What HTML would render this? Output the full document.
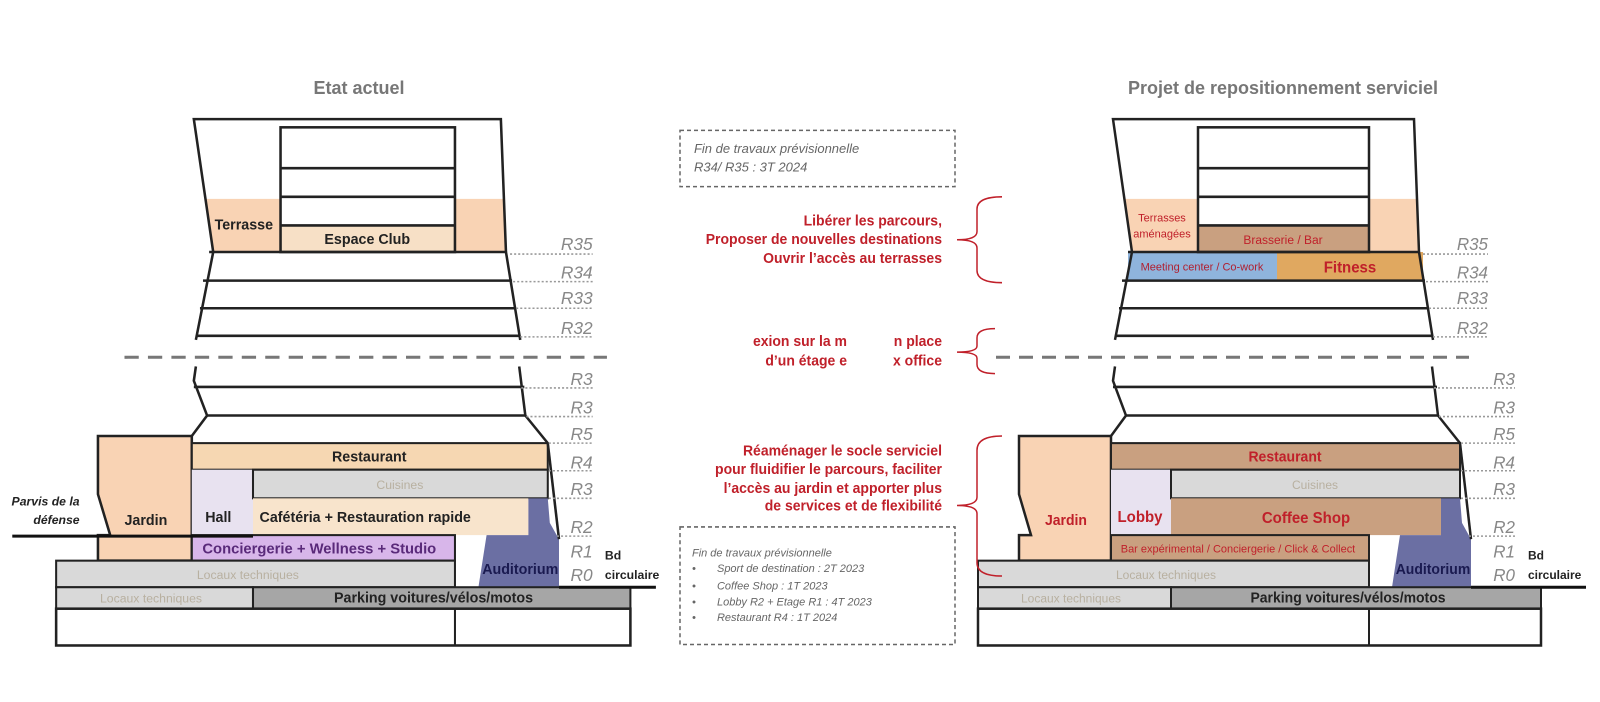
<!DOCTYPE html>
<html><head><meta charset="utf-8"><style>
html,body{margin:0;padding:0;background:#fff;}
svg{display:block;}
text{font-family:"Liberation Sans",sans-serif;}
.b{font-weight:bold;font-size:14px;fill:#222;}
.r{font-style:italic;font-size:17px;fill:#888;text-anchor:end;}
.red{font-weight:bold;font-size:14px;fill:#c0202a;text-anchor:end;}
.g{font-style:italic;font-size:13px;fill:#666;}
.s{font-style:italic;font-size:11px;fill:#666;}
</style></head><body>
<svg width="1600" height="702" viewBox="0 0 1600 702" xmlns="http://www.w3.org/2000/svg">
<rect width="1600" height="702" fill="#fff"/>
<text x="359" y="94" text-anchor="middle" style="font-weight:bold;font-size:18px;fill:#777">Etat actuel</text>
<text x="1283" y="94" text-anchor="middle" style="font-weight:bold;font-size:18px;fill:#777">Projet de repositionnement serviciel</text>

<g transform="matrix(1,0,0,1.022,0,0.6)">
<!-- LEFT BUILDING -->
<g transform="matrix(1.02,0,0,1,-2,0)">
<polygon points="203,194 277,194 277,246 211,246" fill="#f9d3b4"/>
<polygon points="448,194 497,194 498,246 448,246" fill="#f9d3b4"/>
<rect x="277" y="220" width="171" height="26" fill="#f7e0c6"/>
<g stroke="#222" stroke-width="2.5" fill="none">
<polyline points="211,246 192,116 493,116 498,246"/>
<rect x="277" y="124" width="171" height="122"/>
<line x1="277" y1="164" x2="448" y2="164"/><line x1="277" y1="192" x2="448" y2="192"/><line x1="277" y1="220" x2="448" y2="220"/>
<polyline points="211,246 194,332"/><polyline points="498,246 512,332"/>
<line x1="207" y1="246" x2="499" y2="246"/><line x1="201" y1="274" x2="504" y2="274"/><line x1="198" y1="301" x2="507" y2="301"/><line x1="195" y1="328" x2="511" y2="328"/>
<polyline points="194,358 192,372 205,406 190,426"/>
<polyline points="511,358 517,406 539,433"/>
<line x1="192" y1="378" x2="516" y2="378"/><line x1="204" y1="406" x2="518" y2="406"/>
</g>
<line x1="124" y1="349" x2="597" y2="349" stroke="#777" stroke-width="3" stroke-dasharray="14,9"/>
<polygon points="98,426 190,426 190,548 98,548 98,523 110,523 98,483" fill="#f9d3b4" stroke="#222" stroke-width="2.5"/>
<rect x="190" y="433" width="349" height="26" fill="#f6d7b2" stroke="#222" stroke-width="2"/>
<rect x="190" y="459" width="60" height="64" fill="#e8e2f0"/>
<rect x="250" y="459" width="289" height="28" fill="#d9d9d9" stroke="#222" stroke-width="2"/>
<rect x="250" y="487" width="270" height="36" fill="#f8e4cc"/>
<polygon points="520,487 539,487 541,511 550,527 550,574 471,574 479,523 520,523" fill="#6b6fa3"/>
<rect x="190" y="523" width="258" height="25" fill="#d8b6ea" stroke="#222" stroke-width="2"/>
<rect x="57" y="548" width="391" height="26" fill="#d9d9d9" stroke="#222" stroke-width="2"/>
<rect x="57" y="574" width="193" height="21" fill="#d9d9d9" stroke="#222" stroke-width="2"/>
<rect x="250" y="574" width="370" height="21" fill="#a6a6a6" stroke="#222" stroke-width="2"/>
<rect x="57" y="595" width="563" height="36" fill="#fff" stroke="#222" stroke-width="2.5"/>
<line x1="448" y1="595" x2="448" y2="631" stroke="#222" stroke-width="2"/>
<line x1="539" y1="433" x2="550" y2="527" stroke="#222" stroke-width="2.5"/>
<line x1="14" y1="524" x2="250" y2="524" stroke="#111" stroke-width="3"/>
<line x1="550" y1="574" x2="645" y2="574" stroke="#111" stroke-width="3"/>
<text x="241" y="224" class="b" text-anchor="middle">Terrasse</text>
<text x="362" y="238" class="b" text-anchor="middle">Espace Club</text>
<text x="364" y="451" class="b" text-anchor="middle">Restaurant</text>
<text x="394" y="478" text-anchor="middle" style="font-size:12px;fill:#b8b0a0">Cuisines</text>
<text x="216" y="510" class="b" text-anchor="middle">Hall</text>
<text x="360" y="510" class="b" text-anchor="middle">Cafétéria + Restauration rapide</text>
<text x="145" y="513" class="b" text-anchor="middle">Jardin</text>
<text x="315" y="541" class="b" text-anchor="middle" style="fill:#5a2a7a;font-size:14.5px">Conciergerie + Wellness + Studio</text>
<text x="245" y="566" text-anchor="middle" style="font-size:12px;fill:#b8b0a0">Locaux techniques</text>
<text x="150" y="589" text-anchor="middle" style="font-size:12px;fill:#b8b0a0">Locaux techniques</text>
<text x="427" y="589" class="b" text-anchor="middle">Parking voitures/vélos/motos</text>
<text x="512" y="561" class="b" text-anchor="middle" style="fill:#1a1a50">Auditorium</text>
<text x="80" y="494" text-anchor="end" style="font-style:italic;font-weight:bold;font-size:12px;fill:#222">Parvis de la</text>
<text x="80" y="512" text-anchor="end" style="font-style:italic;font-weight:bold;font-size:12px;fill:#222">défense</text>
<text x="595" y="547" style="font-weight:bold;font-size:12px;fill:#222">Bd</text>
<text x="595" y="566" style="font-weight:bold;font-size:12px;fill:#222">circulaire</text>
<text x="583" y="244" class="r">R35</text><text x="583" y="272" class="r">R34</text><text x="583" y="297" class="r">R33</text><text x="583" y="326" class="r">R32</text>
<text x="583" y="376" class="r">R3</text><text x="583" y="404" class="r">R3</text><text x="583" y="430" class="r">R5</text><text x="583" y="458" class="r">R4</text>
<text x="583" y="484" class="r">R3</text><text x="583" y="521" class="r">R2</text><text x="583" y="545" class="r">R1</text><text x="583" y="568" class="r">R0</text>
<g stroke="#999" stroke-width="1.5" stroke-dasharray="2,2">
<line x1="502" y1="248" x2="583" y2="248"/><line x1="505" y1="275" x2="583" y2="275"/><line x1="508" y1="301" x2="583" y2="301"/><line x1="512" y1="329" x2="583" y2="329"/>
<line x1="513" y1="379" x2="583" y2="379"/><line x1="518" y1="407" x2="583" y2="407"/><line x1="540" y1="433" x2="583" y2="433"/><line x1="540" y1="460" x2="583" y2="460"/>
<line x1="540" y1="487" x2="583" y2="487"/><line x1="548" y1="524" x2="583" y2="524"/>
</g>
</g>

<!-- RIGHT BUILDING -->
<g transform="translate(921,0)">
<polygon points="203,194 277,194 277,246 211,246" fill="#f9d3b4"/>
<polygon points="448,194 497,194 498,246 448,246" fill="#f9d3b4"/>
<rect x="277" y="220" width="171" height="26" fill="#c9a080" stroke="#444" stroke-width="1.5"/>
<rect x="207" y="246" width="149" height="28" fill="#8fb4dc"/>
<rect x="356" y="246" width="146" height="28" fill="#e0a860"/>
<g stroke="#222" stroke-width="2.5" fill="none">
<polyline points="211,246 192,116 493,116 498,246"/>
<rect x="277" y="124" width="171" height="122"/>
<line x1="277" y1="164" x2="448" y2="164"/><line x1="277" y1="192" x2="448" y2="192"/><line x1="277" y1="220" x2="448" y2="220"/>
<polyline points="211,246 194,332"/><polyline points="498,246 512,332"/>
<line x1="207" y1="246" x2="499" y2="246"/><line x1="201" y1="274" x2="504" y2="274"/><line x1="198" y1="301" x2="507" y2="301"/><line x1="195" y1="328" x2="511" y2="328"/>
<polyline points="194,358 192,372 205,406 190,426"/>
<polyline points="511,358 517,406 539,433"/>
<line x1="192" y1="378" x2="516" y2="378"/><line x1="204" y1="406" x2="518" y2="406"/>
</g>
<polygon points="98,426 190,426 190,548 98,548 98,523 110,523 98,483" fill="#f9d3b4" stroke="#222" stroke-width="2.5"/>
<rect x="190" y="433" width="349" height="26" fill="#c9a080" stroke="#222" stroke-width="2"/>
<rect x="190" y="459" width="60" height="64" fill="#e8e2f0"/>
<rect x="250" y="459" width="289" height="28" fill="#d9d9d9" stroke="#222" stroke-width="2"/>
<rect x="250" y="487" width="270" height="36" fill="#c9a080"/>
<polygon points="520,487 539,487 541,511 550,527 550,574 471,574 479,523 520,523" fill="#6b6fa3"/>
<rect x="190" y="523" width="258" height="25" fill="#c9a080" stroke="#222" stroke-width="2"/>
<rect x="57" y="548" width="391" height="26" fill="#d9d9d9" stroke="#222" stroke-width="2"/>
<rect x="57" y="574" width="193" height="21" fill="#d9d9d9" stroke="#222" stroke-width="2"/>
<rect x="250" y="574" width="370" height="21" fill="#a6a6a6" stroke="#222" stroke-width="2"/>
<rect x="57" y="595" width="563" height="36" fill="#fff" stroke="#222" stroke-width="2.5"/>
<line x1="448" y1="595" x2="448" y2="631" stroke="#222" stroke-width="2"/>
<line x1="539" y1="433" x2="550" y2="527" stroke="#222" stroke-width="2.5"/>
<line x1="550" y1="574" x2="665" y2="574" stroke="#111" stroke-width="3"/>
<text x="241" y="216" style="font-size:11px;fill:#c0202a" text-anchor="middle">Terrasses</text>
<text x="241" y="232" style="font-size:11px;fill:#c0202a" text-anchor="middle">aménagées</text>
<text x="362" y="238" style="font-size:12px;fill:#c0202a" text-anchor="middle">Brasserie / Bar</text>
<text x="281" y="264" style="font-size:11px;fill:#b02030" text-anchor="middle">Meeting center / Co-work</text>
<text x="429" y="266" style="font-weight:bold;font-size:15px;fill:#c0202a" text-anchor="middle">Fitness</text>
<text x="364" y="451" style="font-weight:bold;font-size:14px;fill:#c0202a" text-anchor="middle">Restaurant</text>
<text x="394" y="478" text-anchor="middle" style="font-size:12px;fill:#b8b0a0">Cuisines</text>
<text x="219" y="510" style="font-weight:bold;font-size:15px;fill:#c0202a" text-anchor="middle">Lobby</text>
<text x="385" y="511" style="font-weight:bold;font-size:15px;fill:#c0202a" text-anchor="middle">Coffee Shop</text>
<text x="145" y="513" style="font-weight:bold;font-size:14px;fill:#c0202a" text-anchor="middle">Jardin</text>
<text x="317" y="540" style="font-size:11px;fill:#c0202a" text-anchor="middle">Bar expérimental / Conciergerie / Click &amp; Collect</text>
<text x="245" y="566" text-anchor="middle" style="font-size:12px;fill:#b8b0a0">Locaux techniques</text>
<text x="150" y="589" text-anchor="middle" style="font-size:12px;fill:#b8b0a0">Locaux techniques</text>
<text x="427" y="589" class="b" text-anchor="middle">Parking voitures/vélos/motos</text>
<text x="512" y="561" class="b" text-anchor="middle" style="fill:#1a1a50">Auditorium</text>
<text x="607" y="547" style="font-weight:bold;font-size:12px;fill:#222">Bd</text>
<text x="607" y="566" style="font-weight:bold;font-size:12px;fill:#222">circulaire</text>
<text x="567" y="244" class="r">R35</text><text x="567" y="272" class="r">R34</text><text x="567" y="297" class="r">R33</text><text x="567" y="326" class="r">R32</text>
<text x="594" y="376" class="r">R3</text><text x="594" y="404" class="r">R3</text><text x="594" y="430" class="r">R5</text><text x="594" y="458" class="r">R4</text>
<text x="594" y="484" class="r">R3</text><text x="594" y="521" class="r">R2</text><text x="594" y="545" class="r">R1</text><text x="594" y="568" class="r">R0</text>
<g stroke="#999" stroke-width="1.5" stroke-dasharray="2,2">
<line x1="502" y1="248" x2="567" y2="248"/><line x1="505" y1="275" x2="567" y2="275"/><line x1="508" y1="301" x2="567" y2="301"/><line x1="512" y1="329" x2="567" y2="329"/>
<line x1="513" y1="379" x2="594" y2="379"/><line x1="518" y1="407" x2="594" y2="407"/><line x1="540" y1="433" x2="594" y2="433"/><line x1="540" y1="460" x2="594" y2="460"/>
<line x1="540" y1="487" x2="594" y2="487"/><line x1="548" y1="524" x2="594" y2="524"/>
</g>
</g>
<line x1="996" y1="349" x2="1469" y2="349" stroke="#777" stroke-width="3" stroke-dasharray="14,9"/>

<!-- braces -->
<g stroke="#c0202a" stroke-width="1.5" fill="none">
<path d="M1002,192 Q977,192 977,204 L977,226 Q977,234 957,234 Q977,234 977,242 L977,264 Q977,276 1002,276"/>
<path d="M995,321 Q977,321 977,330 L977,338 Q977,344 957,344 Q977,344 977,350 L977,356 Q977,365 995,365"/>
<path d="M1002,426 Q977,426 977,440 L977,486 Q977,494 957,494 Q977,494 977,502 L977,550 Q977,563 1002,563"/>
</g>

<!-- middle -->
<rect x="680" y="127" width="275" height="55" fill="none" stroke="#666" stroke-width="1.5" stroke-dasharray="4,3"/>
<text x="694" y="149" class="g">Fin de travaux prévisionnelle</text>
<text x="694" y="167" class="g">R34/ R35 : 3T 2024</text>
<text x="942" y="220" class="red">Libérer les parcours,</text>
<text x="942" y="238" class="red">Proposer de nouvelles destinations</text>
<text x="942" y="257" class="red">Ouvrir l’accès au terrasses</text>
<text x="847" y="338" class="red">exion sur la m</text>
<text x="942" y="338" class="red">n place</text>
<text x="847" y="357" class="red">d’un étage e</text>
<text x="942" y="357" class="red">x office</text>
<text x="942" y="445" class="red">Réaménager le socle serviciel</text>
<text x="942" y="463" class="red">pour fluidifier le parcours, faciliter</text>
<text x="942" y="482" class="red">l’accès au jardin et apporter plus</text>
<text x="942" y="499" class="red">de services et de flexibilité</text>
<rect x="680" y="515" width="275" height="115" fill="none" stroke="#666" stroke-width="1.5" stroke-dasharray="4,3"/>
<text x="692" y="544" class="s">Fin de travaux prévisionnelle</text>
<text x="692" y="559" class="s">•</text><text x="717" y="559" class="s">Sport  de destination  : 2T 2023</text>
<text x="692" y="576" class="s">•</text><text x="717" y="576" class="s">Coffee Shop : 1T 2023</text>
<text x="692" y="592" class="s">•</text><text x="717" y="592" class="s">Lobby R2 + Etage R1 : 4T 2023</text>
<text x="692" y="607" class="s">•</text><text x="717" y="607" class="s">Restaurant R4 : 1T 2024</text>
</g>
</svg>
</body></html>
